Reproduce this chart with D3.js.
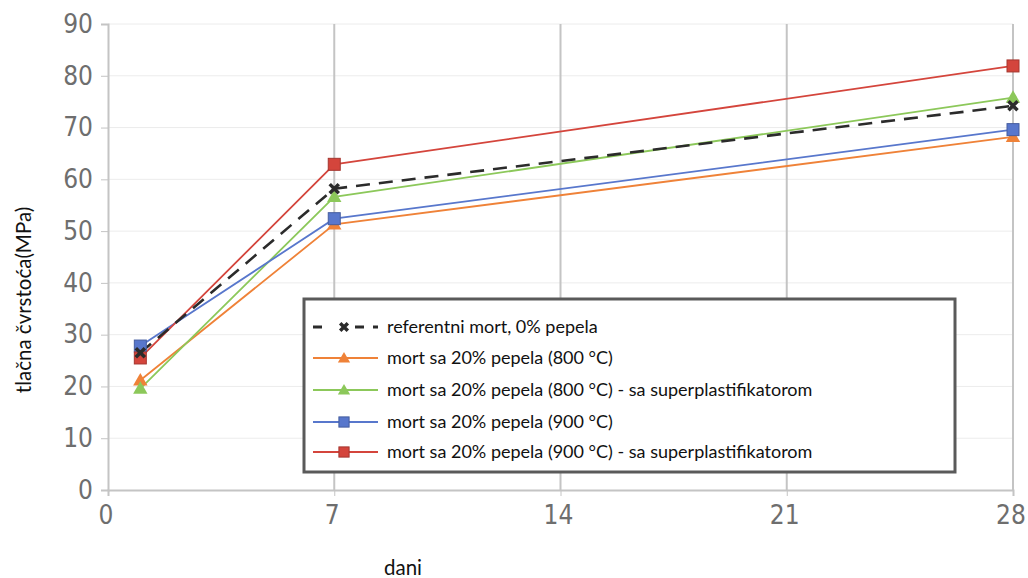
<!DOCTYPE html>
<html lang="sr">
<head>
    <meta charset="UTF-8">
    <title>tlačna čvrstoća</title>
    <script src="https://cdn.jsdelivr.net/npm/d3@7/dist/d3.min.js"></script>
    <style>
        body { margin: 0; background: #fff; }
        .tick text { font-family: "Liberation Sans Narrow", "DejaVu Sans Condensed", sans-serif; font-size: 26px; fill: #6e6e6e; }
        .series path { fill: none; }
        .legend text { font-family: Lato, sans-serif; font-size: 18px; fill: #111; }
        .title { font-family: Lato, sans-serif; font-size: 20.5px; fill: #111; }
    </style>
</head>
<body>
    <svg width="1028" height="578"></svg>
    <script>
        var days = [1, 7, 28];
        var xTicks = [0, 7, 14, 21, 28];
        var yTicks = [0, 10, 20, 30, 40, 50, 60, 70, 80, 90];

        var refMort = [26.5, 58.2, 74.2];
        var mort800 = [21.2, 51.3, 68.2];
        var mort800sp = [19.6, 56.6, 75.8];
        var mort900 = [27.8, 52.4, 69.6];
        var mort900sp = [25.5, 62.9, 81.9];

        var names = [
            'referentni mort, 0% pepela',
            'mort sa 20% pepela (800 °C)',
            'mort sa 20% pepela (800 °C) - sa superplastifikatorom',
            'mort sa 20% pepela (900 °C)',
            'mort sa 20% pepela (900 °C) - sa superplastifikatorom'
        ];

        var series = [
            { name: names[0], values: refMort, color: '#2b2b2b', marker: 'x', dash: '14,9', width: 2.6 },
            { name: names[1], values: mort800, color: '#ef8238', marker: 'tri', dash: null, width: 1.8 },
            { name: names[2], values: mort800sp, color: '#8cc85a', marker: 'tri', dash: null, width: 1.8 },
            { name: names[3], values: mort900, color: '#5877cc', marker: 'sq', dash: null, width: 1.8 },
            { name: names[4], values: mort900sp, color: '#d4453c', marker: 'sq', dash: null, width: 1.8 }
        ];

        var svg = d3.select('svg'),
            margin = { top: 24, right: 15, bottom: 88, left: 108 },
            chartWidth = 1028 - margin.left - margin.right,
            chartHeight = 578 - margin.top - margin.bottom,
            xScale = d3.scaleLinear().domain([0, 28]).range([0, chartWidth]),
            yScale = d3.scaleLinear().domain([0, 90]).range([chartHeight, 0]),
            chartG = svg.append('g')
                .attr('transform', 'translate(' + [margin.left, margin.top] + ')');

        // grid
        chartG.append('g').selectAll('line')
            .data(yTicks.slice(1))
            .enter().append('line')
            .attr('x1', 0).attr('x2', chartWidth)
            .attr('y1', function(d) { return yScale(d); })
            .attr('y2', function(d) { return yScale(d); })
            .attr('stroke', '#ececec').attr('stroke-width', 1);

        chartG.append('g').selectAll('line')
            .data(xTicks.slice(1))
            .enter().append('line')
            .attr('x1', function(d) { return xScale(d); })
            .attr('x2', function(d) { return xScale(d); })
            .attr('y1', 0).attr('y2', chartHeight)
            .attr('stroke', '#c4c4c4').attr('stroke-width', 2);

        var xAxis = d3.axisBottom(xScale).tickValues(xTicks).tickSize(6).tickPadding(10),
            yAxis = d3.axisLeft(yScale).tickValues(yTicks).tickSize(7).tickPadding(8);

        var gx = chartG.append('g')
            .attr('transform', 'translate(0,' + chartHeight + ')')
            .call(xAxis);
        gx.select('.domain').attr('stroke', '#c4c4c4').attr('stroke-width', 2);
        gx.selectAll('.tick line').attr('stroke', '#c4c4c4');
        gx.selectAll('.tick text').attr('dx', '-0.1em');

        var gy = chartG.append('g').call(yAxis);
        gy.select('.domain').attr('stroke', '#c4c4c4').attr('stroke-width', 2);
        gy.selectAll('.tick line').attr('stroke', '#c4c4c4');

        // axis titles
        svg.append('text').classed('title', true)
            .attr('transform', 'translate(31,300) rotate(-90)')
            .attr('text-anchor', 'middle')
            .text('tlačna čvrstoća(MPa)');

        svg.append('text').classed('title', true)
            .attr('x', 403).attr('y', 575)
            .attr('text-anchor', 'middle')
            .text('dani');

        var lineG = d3.line()
            .x(function(d, i) { return xScale(days[i]); })
            .y(function(d) { return yScale(d); });

        function drawMarker(g, s, cx, cy, k) {
            k = k || 1;
            if (s.marker === 'tri') {
                g.append('path')
                    .attr('d', d3.symbol().type(d3.symbolTriangle).size(90 * k * k)())
                    .attr('transform', 'translate(' + cx + ',' + (cy + 1) + ')')
                    .attr('fill', s.color);
            } else if (s.marker === 'sq') {
                var h = 6 * k;
                g.append('rect')
                    .attr('x', cx - h).attr('y', cy - h)
                    .attr('width', 2 * h).attr('height', 2 * h)
                    .attr('fill', s.color)
                    .attr('stroke', d3.color(s.color).darker(0.7))
                    .attr('stroke-width', 1);
            } else {
                g.append('path')
                    .attr('d', d3.symbol().type(d3.symbolX).size(55 * k * k)())
                    .attr('transform', 'translate(' + cx + ',' + cy + ')')
                    .attr('stroke', s.color).attr('stroke-width', 3.5);
            }
        }

        var lineLayer = chartG.append('g'),
            markLayer = chartG.append('g');
        [1, 2, 3, 4, 0].forEach(function(idx) {
            var s = series[idx];
            lineLayer.append('g').classed('series', true)
                .append('path')
                .datum(s.values)
                .attr('d', lineG)
                .attr('stroke', s.color)
                .attr('stroke-width', s.width)
                .attr('stroke-dasharray', s.dash);
        });
        [1, 2, 3, 4, 0].forEach(function(idx) {
            var s = series[idx];
            var g = markLayer.append('g');
            s.values.forEach(function(v, i) {
                drawMarker(g, s, xScale(days[i]), yScale(v));
            });
        });

        // legend
        var lg = svg.append('g').classed('legend', true)
            .attr('transform', 'translate(304,299)');
        lg.append('rect')
            .attr('width', 651).attr('height', 173)
            .attr('fill', '#fff')
            .attr('stroke', '#5a5a5a').attr('stroke-width', 3);

        var rowY = [28, 59, 91, 123, 153];
        series.forEach(function(s, i) {
            var y = rowY[i];
            var row = lg.append('g');
            row.append('line')
                .attr('x1', 9).attr('x2', 74)
                .attr('y1', y).attr('y2', y)
                .attr('stroke', s.color)
                .attr('stroke-width', i === 0 ? 3 : 1.8)
                .attr('stroke-dasharray', i === 0 ? '9,16,0,17,9' : null);
            drawMarker(row, s, 40, y, 0.85);
            row.append('text')
                .attr('x', 83).attr('y', y + 6)
                .text(s.name);
        });
    </script>
</body>
</html>
